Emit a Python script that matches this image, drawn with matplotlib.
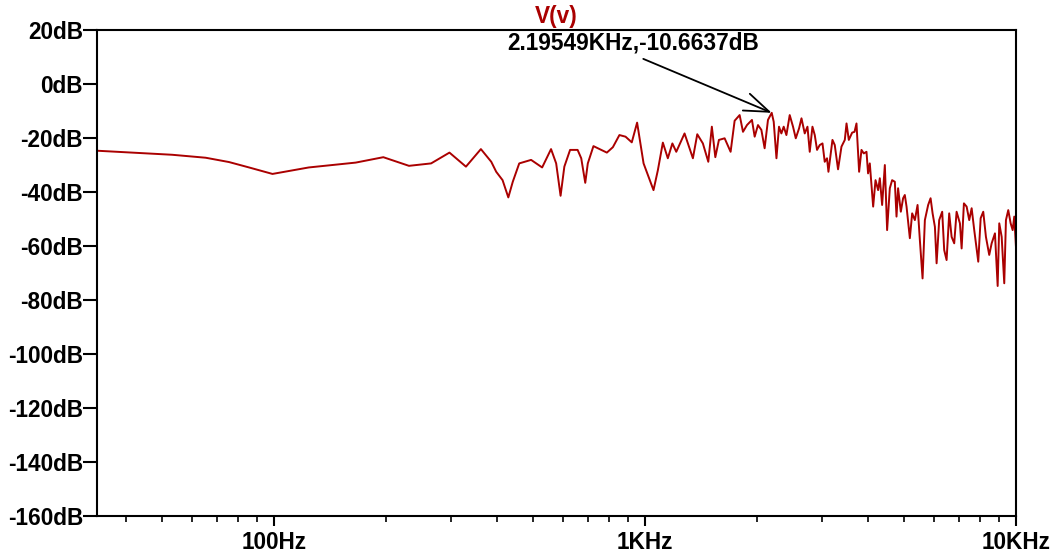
import matplotlib
matplotlib.use("Agg")
import matplotlib.pyplot as plt
from matplotlib.ticker import FixedLocator, LogLocator, NullFormatter

plt.rcParams["font.family"] = ["Liberation Sans", "DejaVu Sans"]
plt.rcParams["font.weight"] = "bold"
plt.rcParams["axes.unicode_minus"] = False

# FFT of V(v): frequency (Hz) and magnitude (dB)
freq = [33.3, 41.5, 53.1, 65.4, 75.6, 85.6, 99, 124, 166, 197, 231, 265, 297, 329, 361,
        385, 397, 413, 428, 440, 458, 493, 528, 558, 576, 592, 606, 628, 658, 673, 690,
        701, 726, 789, 819, 853, 886, 921, 952, 991, 1018, 1054, 1083, 1117, 1152, 1185,
        1214, 1278, 1346, 1383, 1432, 1481, 1514, 1547, 1582, 1639, 1701, 1744, 1799,
        1837, 1883, 1942, 1975, 2016, 2059, 2101, 2145, 2195.49, 2223, 2261, 2297, 2331,
        2365, 2405, 2455, 2506, 2549, 2602, 2641, 2695, 2741, 2780, 2827, 2868, 2909,
        2958, 3009, 3051, 3095, 3122, 3201, 3247, 3314, 3385, 3456, 3493, 3543, 3617,
        3671, 3716, 3777, 3833, 3888, 3954, 3993, 4036, 4121, 4182, 4250, 4295, 4357,
        4431, 4494, 4570, 4636, 4714, 4764, 4811, 4893, 4963, 5016, 5070, 5175, 5250,
        5339, 5429, 5507, 5600, 5681, 5798, 5886, 5960, 6046, 6110, 6209, 6326, 6405,
        6501, 6607, 6707, 6816, 6917, 7062, 7137, 7239, 7362, 7482, 7595, 7718, 7913,
        8032, 8162, 8299, 8471, 8599, 8777, 8926, 9015, 9151, 9299, 9397, 9533, 9676,
        9797, 9895, 10000]
mag_db = [-24.7, -25.4, -26.2, -27.3, -28.9, -30.9, -33.3, -30.9, -29.1, -27.1, -30.3,
          -29.4, -25.4, -30.6, -24.1, -28.8, -32.5, -35.6, -42.0, -36.2, -29.4, -28.1,
          -30.9, -24.1, -29.4, -41.4, -30.6, -24.4, -24.4, -27.5, -36.6, -29.4, -23.0,
          -25.4, -23.4, -18.9, -19.5, -21.6, -14.3, -29.4, -33.7, -39.3, -31.9, -21.7,
          -27.5, -22.0, -25.1, -18.3, -27.5, -18.6, -22.0, -28.8, -15.8, -27.1, -20.7,
          -20.1, -25.1, -13.6, -11.5, -17.7, -15.2, -13.3, -19.5, -15.2, -17.0, -23.8,
          -13.3, -10.6637, -14.0, -27.5, -15.8, -18.3, -15.8, -18.9, -11.5, -15.8, -20.1,
          -16.4, -12.7, -18.3, -15.8, -25.1, -15.8, -18.9, -24.4, -22.6, -22.0, -28.8,
          -27.5, -32.5, -20.7, -22.6, -31.6, -23.2, -20.7, -14.6, -20.7, -18.0, -17.7,
          -14.6, -32.5, -24.4, -25.7, -25.1, -33.1, -29.4, -45.4, -35.6, -39.3, -34.9,
          -44.8, -30.0, -54.1, -38.6, -35.6, -36.2, -49.1, -38.6, -47.3, -42.3, -41.1,
          -45.4, -57.1, -47.9, -50.4, -44.8, -57.8, -72.0, -50.4, -44.8, -42.3, -47.9,
          -52.9, -66.4, -50.4, -47.3, -61.5, -65.2, -47.9, -56.6, -59.0, -47.3, -51.6,
          -60.9, -44.2, -45.4, -50.4, -46.0, -54.1, -65.8, -49.7, -47.3, -56.6, -63.3,
          -59.0, -55.3, -74.8, -51.6, -56.6, -73.8, -50.4, -46.7, -51.6, -54.1, -49.1,
          -60.3]

y_ticks = [20, 0, -20, -40, -60, -80, -100, -120, -140, -160]
y_labels = ["20dB", "0dB", "-20dB", "-40dB", "-60dB", "-80dB", "-100dB", "-120dB", "-140dB", "-160dB"]
x_ticks = [100, 1000, 10000]
x_labels = ["100Hz", "1KHz", "10KHz"]

peak_f = 2195.49
peak_db = -10.6637

trace_color = "#aa0000"
fs = 16.3

fig = plt.figure(figsize=(10.55, 5.56), dpi=100)
ax = fig.add_axes([0.0919, 0.0719, 0.8711, 0.8741])

ax.plot(freq, mag_db, color=trace_color, linewidth=1.4)

ax.set_xscale("log")
ax.set_xlim(33.3, 10000)
ax.set_ylim(-160, 20)

ax.yaxis.set_major_locator(FixedLocator(y_ticks))
ax.set_yticklabels(y_labels)
ax.xaxis.set_major_locator(FixedLocator(x_ticks))
ax.set_xticklabels(x_labels)
ax.xaxis.set_minor_locator(LogLocator(base=10, subs=range(2, 10), numticks=20))
ax.xaxis.set_minor_formatter(NullFormatter())

for s in ax.spines.values():
    s.set_linewidth(1.5)
    s.set_color("black")

ax.tick_params(axis="y", which="major", direction="out", length=10, width=1.5,
               pad=0, labelsize=fs)
ax.tick_params(axis="x", which="major", direction="out", length=7, width=1.5,
               pad=4, labelsize=fs)
ax.tick_params(axis="x", which="minor", direction="out", length=4, width=1.2)
for lbl in ax.get_xticklabels() + ax.get_yticklabels():
    lbl.set_fontweight("bold")

ax.set_title("V(v)", color=trace_color, fontsize=fs, fontweight="bold", pad=5)

ax.annotate("2.19549KHz,-10.6637dB", xy=(peak_f, peak_db),
            xytext=(-100, 42), textcoords="offset points",
            ha="center", va="bottom", fontsize=fs, fontweight="bold", color="black",
            arrowprops=dict(arrowstyle="->,head_length=1.1,head_width=0.4",
                            color="black", lw=1.3, shrinkA=3, shrinkB=0,
                            relpos=(0.5, 0.0)))

fig.savefig("out.png", dpi=100, facecolor="white")
